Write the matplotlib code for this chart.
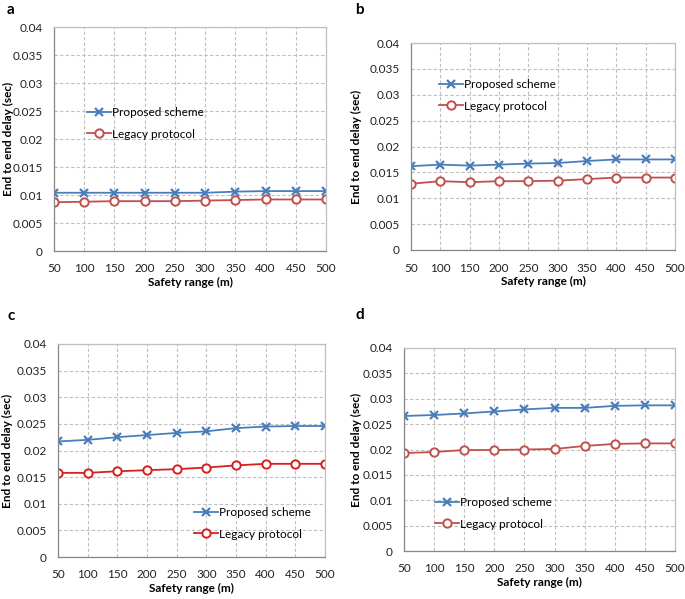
import matplotlib.pyplot as plt
import numpy as np

plt.rcParams['font.family'] = ['Lato', 'DejaVu Sans']

# ---- data ---- #
safety_range = [50, 100, 150, 200, 250, 300, 350, 400, 450, 500]

proposed_a = [0.0104, 0.0104, 0.0104, 0.0104, 0.0104, 0.0104, 0.0106, 0.0107, 0.0107, 0.0107]
legacy_a = [0.0087, 0.0088, 0.0089, 0.0089, 0.0089, 0.0090, 0.0091, 0.0092, 0.0092, 0.0092]

proposed_b = [0.0162, 0.0165, 0.0163, 0.0165, 0.0167, 0.0168, 0.0172, 0.0175, 0.0175, 0.0175]
legacy_b = [0.0128, 0.0133, 0.0131, 0.0133, 0.0133, 0.0134, 0.0137, 0.0140, 0.0140, 0.0140]

proposed_c = [0.0217, 0.0220, 0.0225, 0.0229, 0.0233, 0.0236, 0.0242, 0.0245, 0.0246, 0.0246]
legacy_c = [0.0158, 0.0158, 0.0161, 0.0163, 0.0165, 0.0168, 0.0172, 0.0175, 0.0175, 0.0175]

proposed_d = [0.0266, 0.0268, 0.0271, 0.0275, 0.0279, 0.0282, 0.0282, 0.0286, 0.0287, 0.0287]
legacy_d = [0.0193, 0.0195, 0.0199, 0.0199, 0.0200, 0.0201, 0.0207, 0.0211, 0.0212, 0.0212]

y_ticks = [0, 0.005, 0.01, 0.015, 0.02, 0.025, 0.03, 0.035, 0.04]
y_tick_labels = ['0', '0.005', '0.01', '0.015', '0.02', '0.025', '0.03', '0.035', '0.04']

W, H = 685, 599
fig = plt.figure(figsize=(W / 100, H / 100), dpi=100)

# (letter, letter pos px, proposed, legacy, axes box px [left, top, right, bottom],
#  legend anchor px, ylabel x px, red)
panels = [
    ('a', (7, 10), proposed_a, legacy_a, (54, 27, 326, 251), (81, 101), 8, '#c0504d'),
    ('b', (355, 10), proposed_b, legacy_b, (411, 43, 675, 250), (433, 73), 356, '#c0504d'),
    ('c', (7, 316), proposed_c, legacy_c, (58, 344, 325, 557), (188, 501), 7, '#d62020'),
    ('d', (355, 315), proposed_d, legacy_d, (404, 348, 675, 551), (429, 491), 356, '#c0504d'),
]

blue = '#4a7ebb'

for letter, lp, prop, leg, box, lg, ylx, red in panels:
    l, t, r, b = box
    ax = fig.add_axes([l / W, 1 - b / H, (r - l) / W, (b - t) / H])
    ax.plot(safety_range, prop, color=blue, lw=1.3, marker='x', ms=6, mew=1.6,
            label='Proposed scheme')
    ax.plot(safety_range, leg, color=red, lw=1.3, marker='o', ms=6, mew=1.4,
            mfc='white', label='Legacy protocol')
    ax.set_xlim(50, 500)
    ax.set_ylim(0, 0.04)
    ax.set_xticks(safety_range)
    ax.set_yticks(y_ticks)
    ax.set_yticklabels(y_tick_labels)
    ax.tick_params(length=0, labelsize=8.5, colors='#222222')
    ax.tick_params(axis='x', pad=9)
    ax.tick_params(axis='y', pad=8)
    ax.grid(True, color='#bfbfbf', ls=(0, (3, 2)), lw=0.8)
    for s in ['top', 'right']:
        ax.spines[s].set_color('#bfbfbf')
    for s in ['left', 'bottom']:
        ax.spines[s].set_color('#868686')
    for s in ax.spines.values():
        s.set_linewidth(0.9)
    ax.set_xlabel('Safety range (m)', fontsize=8.5, fontweight='bold', labelpad=2)
    ax.set_ylabel('End to end delay (sec)', fontsize=8.5, fontweight='bold',
                  va='center')
    ax.yaxis.set_label_coords((ylx - l) / (r - l), 0.5)
    ax.legend(loc='upper left', bbox_to_anchor=(lg[0] / W, 1 - lg[1] / H),
              bbox_transform=fig.transFigure, frameon=False, fontsize=8.5,
              handlelength=2.0, handletextpad=0.1, labelspacing=0.9, borderpad=0)
    fig.text(lp[0] / W, 1 - lp[1] / H, letter, fontsize=11, fontweight='bold',
             va='center', ha='left')

fig.savefig('out.png', dpi=100)
